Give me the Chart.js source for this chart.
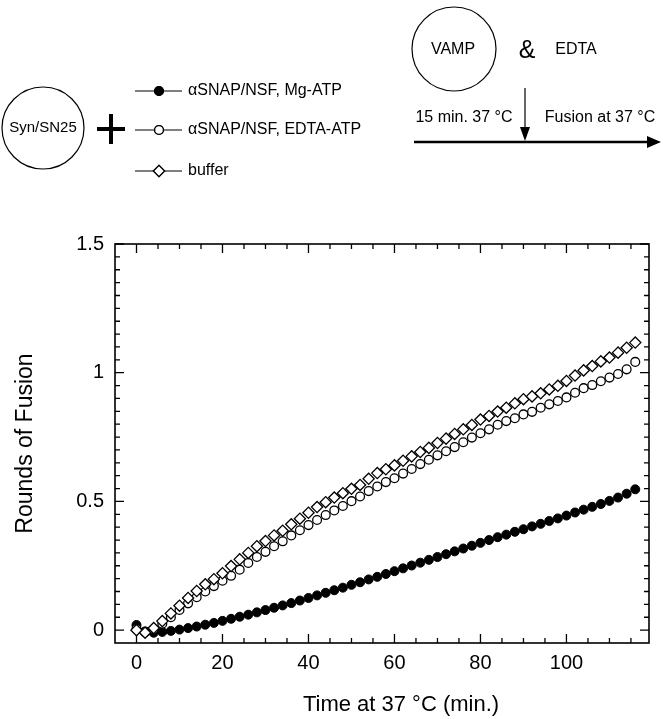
<!DOCTYPE html>
<html>
<head>
<meta charset="utf-8">
<script src="https://cdn.jsdelivr.net/npm/chart.js@4.4.1/dist/chart.umd.min.js"></script>
<style>
  html, body { margin: 0; padding: 0; background: #fff; }
  #wrap { width: 663px; height: 719px; position: relative; }
</style>
</head>
<body>
<div id="wrap"><canvas id="myChart"></canvas></div>
<script>
// time points (min.)
const times = [0, 2, 4, 6, 8, 10, 12, 14, 16, 18,
    20, 22, 24, 26, 28, 30, 32, 34, 36, 38,
    40, 42, 44, 46, 48, 50, 52, 54, 56, 58,
    60, 62, 64, 66, 68, 70, 72, 74, 76, 78,
    80, 82, 84, 86, 88, 90, 92, 94, 96, 98,
    100, 102, 104, 106, 108, 110, 112, 114, 116];

// rounds of fusion
const mgAtp = [0.020, -0.005, -0.010, -0.007, -0.003, 0.002, 0.008, 0.014, 0.021, 0.028,
    0.036, 0.044, 0.052, 0.060, 0.069, 0.078, 0.087, 0.096, 0.105, 0.115,
    0.125, 0.135, 0.145, 0.155, 0.165, 0.176, 0.186, 0.197, 0.207, 0.218,
    0.229, 0.240, 0.251, 0.262, 0.273, 0.284, 0.295, 0.306, 0.317, 0.328,
    0.339, 0.350, 0.361, 0.371, 0.382, 0.392, 0.403, 0.413, 0.424, 0.434,
    0.445, 0.457, 0.468, 0.479, 0.490, 0.502, 0.515, 0.530, 0.547];

const edtaAtp = [0.005, -0.008, 0.003, 0.025, 0.050, 0.078, 0.104, 0.128, 0.150, 0.171,
    0.192, 0.211, 0.235, 0.261, 0.284, 0.304, 0.326, 0.345, 0.368, 0.388,
    0.408, 0.428, 0.447, 0.465, 0.482, 0.501, 0.519, 0.540, 0.558, 0.575,
    0.590, 0.608, 0.626, 0.645, 0.662, 0.679, 0.695, 0.711, 0.730, 0.748,
    0.765, 0.780, 0.798, 0.812, 0.823, 0.838, 0.848, 0.864, 0.877, 0.890,
    0.904, 0.922, 0.940, 0.952, 0.967, 0.981, 0.995, 1.013, 1.042];

const buffer = [0.000, -0.010, 0.008, 0.035, 0.065, 0.095, 0.125, 0.152, 0.178, 0.198,
    0.221, 0.249, 0.275, 0.300, 0.326, 0.346, 0.368, 0.386, 0.411, 0.433,
    0.456, 0.478, 0.497, 0.515, 0.532, 0.549, 0.564, 0.588, 0.610, 0.625,
    0.640, 0.658, 0.675, 0.692, 0.708, 0.727, 0.744, 0.762, 0.780, 0.797,
    0.818, 0.832, 0.849, 0.864, 0.881, 0.897, 0.908, 0.920, 0.935, 0.949,
    0.968, 0.989, 1.009, 1.026, 1.044, 1.059, 1.078, 1.097, 1.117];

const seriesNames = ['\u03b1SNAP/NSF, Mg-ATP', '\u03b1SNAP/NSF, EDTA-ATP', 'buffer'];
const xTicks = [0, 20, 40, 60, 80, 100];
const yTicks = [0, 0.5, 1, 1.5];
const xTitle = 'Time at 37 \u00b0C (min.)';
const yTitle = 'Rounds of Fusion';

const FONT = "'Liberation Sans', Arial, Helvetica, sans-serif";

function pts(vals) {
    return times.map((t, i) => ({x: t, y: vals[i]}));
}

// box, tick marks and axis titles
const frame = {
    id: 'frame',
    beforeDatasetsDraw(chart) {
        const {ctx, chartArea: a, scales: {x, y}} = chart;
        ctx.save();
        ctx.strokeStyle = '#000';
        ctx.lineWidth = 1.6;
        ctx.strokeRect(a.left, a.top, a.right - a.left, a.bottom - a.top);
        ctx.lineWidth = 1.3;
        ctx.beginPath();
        for (let v = 0; v < x.max; v += 5) {
            const px = x.getPixelForValue(v);
            const len = v % 20 === 0 ? 9 : 5;
            ctx.moveTo(px, a.bottom); ctx.lineTo(px, a.bottom - len);
            ctx.moveTo(px, a.top); ctx.lineTo(px, a.top + len);
        }
        for (let i = 0; i <= 30; i++) {
            const py = y.getPixelForValue(i * 0.05);
            const len = i % 10 === 0 ? 9 : 5;
            ctx.moveTo(a.left, py); ctx.lineTo(a.left + len, py);
            ctx.moveTo(a.right, py); ctx.lineTo(a.right - len, py);
        }
        ctx.stroke();

        ctx.fillStyle = '#000';
        ctx.textAlign = 'center';
        ctx.textBaseline = 'middle';
        ctx.font = '22px ' + FONT;
        ctx.fillText(xTitle, 401, 705);
        ctx.font = '23px ' + FONT;
        ctx.translate(26, (a.top + a.bottom) / 2);
        ctx.rotate(-Math.PI / 2);
        ctx.fillText(yTitle, 0, 0);
        ctx.restore();
    }
};

// the scheme above the plot, with the legend in it
const scheme = {
    id: 'scheme',
    afterDraw(chart) {
        const ctx = chart.ctx;
        ctx.save();
        ctx.strokeStyle = '#000';
        ctx.fillStyle = '#000';
        ctx.textBaseline = 'middle';

        // Syn/SN25 vesicle
        ctx.lineWidth = 1.2;
        ctx.beginPath();
        ctx.arc(43, 128, 41, 0, Math.PI * 2);
        ctx.stroke();
        ctx.font = '15px ' + FONT;
        ctx.textAlign = 'center';
        ctx.fillText('Syn/SN25', 43, 128);

        // plus sign
        ctx.lineWidth = 4;
        ctx.beginPath();
        ctx.moveTo(97, 129); ctx.lineTo(125, 129);
        ctx.moveTo(111, 114); ctx.lineTo(111, 144);
        ctx.stroke();

        // legend rows
        const rows = [91, 130, 171];
        chart.data.datasets.forEach((ds, i) => {
            const yy = rows[i];
            ctx.lineWidth = 1.2;
            ctx.beginPath();
            ctx.moveTo(135, yy); ctx.lineTo(182, yy);
            ctx.stroke();
            Chart.helpers.drawPoint(ctx, {
                pointStyle: ds.pointStyle,
                radius: ds.pointRadius,
                borderWidth: ds.borderWidth,
                rotation: 0
            }, 159, yy);
            ctx.fillStyle = ds.backgroundColor;
            ctx.fill();
            ctx.strokeStyle = ds.borderColor;
            ctx.lineWidth = ds.borderWidth;
            ctx.stroke();
            ctx.fillStyle = '#000';
            ctx.strokeStyle = '#000';
            ctx.font = '16px ' + FONT;
            ctx.textAlign = 'left';
            ctx.fillText(ds.label, 188, yy);
        });

        // VAMP vesicle & EDTA
        ctx.lineWidth = 1.2;
        ctx.beginPath();
        ctx.arc(454, 49, 42, 0, Math.PI * 2);
        ctx.stroke();
        ctx.textAlign = 'center';
        ctx.font = '16px ' + FONT;
        ctx.fillText('VAMP', 453, 50);
        ctx.font = '25px ' + FONT;
        ctx.fillText('&', 527, 51);
        ctx.font = '16px ' + FONT;
        ctx.fillText('EDTA', 576, 50);

        // time line
        ctx.font = '16px ' + FONT;
        ctx.fillText('15 min. 37 \u00b0C', 464, 118);
        ctx.fillText('Fusion at 37 \u00b0C', 600, 118);

        ctx.lineWidth = 1.2;
        ctx.beginPath();
        ctx.moveTo(525, 88); ctx.lineTo(525, 132);
        ctx.stroke();
        ctx.beginPath();
        ctx.moveTo(525, 141); ctx.lineTo(520, 127); ctx.lineTo(530, 127);
        ctx.closePath();
        ctx.fill();

        ctx.lineWidth = 2.5;
        ctx.beginPath();
        ctx.moveTo(414, 142); ctx.lineTo(650, 142);
        ctx.stroke();
        ctx.beginPath();
        ctx.moveTo(661, 142); ctx.lineTo(647, 136); ctx.lineTo(647, 148);
        ctx.closePath();
        ctx.fill();
        ctx.restore();
    }
};

const ctx = document.getElementById('myChart').getContext('2d');
const myChart = new Chart(ctx, {
    type: 'scatter',
    data: {
        datasets: [{
            label: seriesNames[0],
            data: pts(mgAtp),
            pointStyle: 'circle',
            pointRadius: 4.5,
            backgroundColor: '#000',
            borderColor: '#000',
            borderWidth: 1,
            order: 3
        }, {
            label: seriesNames[1],
            data: pts(edtaAtp),
            pointStyle: 'circle',
            pointRadius: 4.4,
            backgroundColor: '#fff',
            borderColor: '#000',
            borderWidth: 1.3,
            order: 2
        }, {
            label: seriesNames[2],
            data: pts(buffer),
            pointStyle: 'rectRot',
            pointRadius: 5.6,
            backgroundColor: '#fff',
            borderColor: '#000',
            borderWidth: 1.3,
            order: 1
        }]
    },
    options: {
        responsive: true,
        maintainAspectRatio: false,
        animation: false,
        layout: {padding: {top: 244, right: 14, left: 0, bottom: 0}},
        plugins: {legend: {display: false}, tooltip: {enabled: false}},
        scales: {
            x: {
                type: 'linear',
                min: -5,
                max: 119.2,
                grid: {display: false, drawTicks: false},
                border: {display: false},
                afterBuildTicks: s => { s.ticks = xTicks.map(v => ({value: v})); },
                afterFit: s => { s.height = 76; },
                ticks: {color: '#000', padding: 8, font: {family: FONT, size: 20},
                    callback: v => String(v)}
            },
            y: {
                min: -0.05,
                max: 1.5,
                grid: {display: false, drawTicks: false},
                border: {display: false},
                afterBuildTicks: s => { s.ticks = yTicks.map(v => ({value: v})); },
                afterFit: s => { s.width = 115; },
                ticks: {color: '#000', padding: 11, font: {family: FONT, size: 20},
                    callback: v => String(v)}
            }
        }
    },
    plugins: [frame, scheme]
});
</script>
</body>
</html>
